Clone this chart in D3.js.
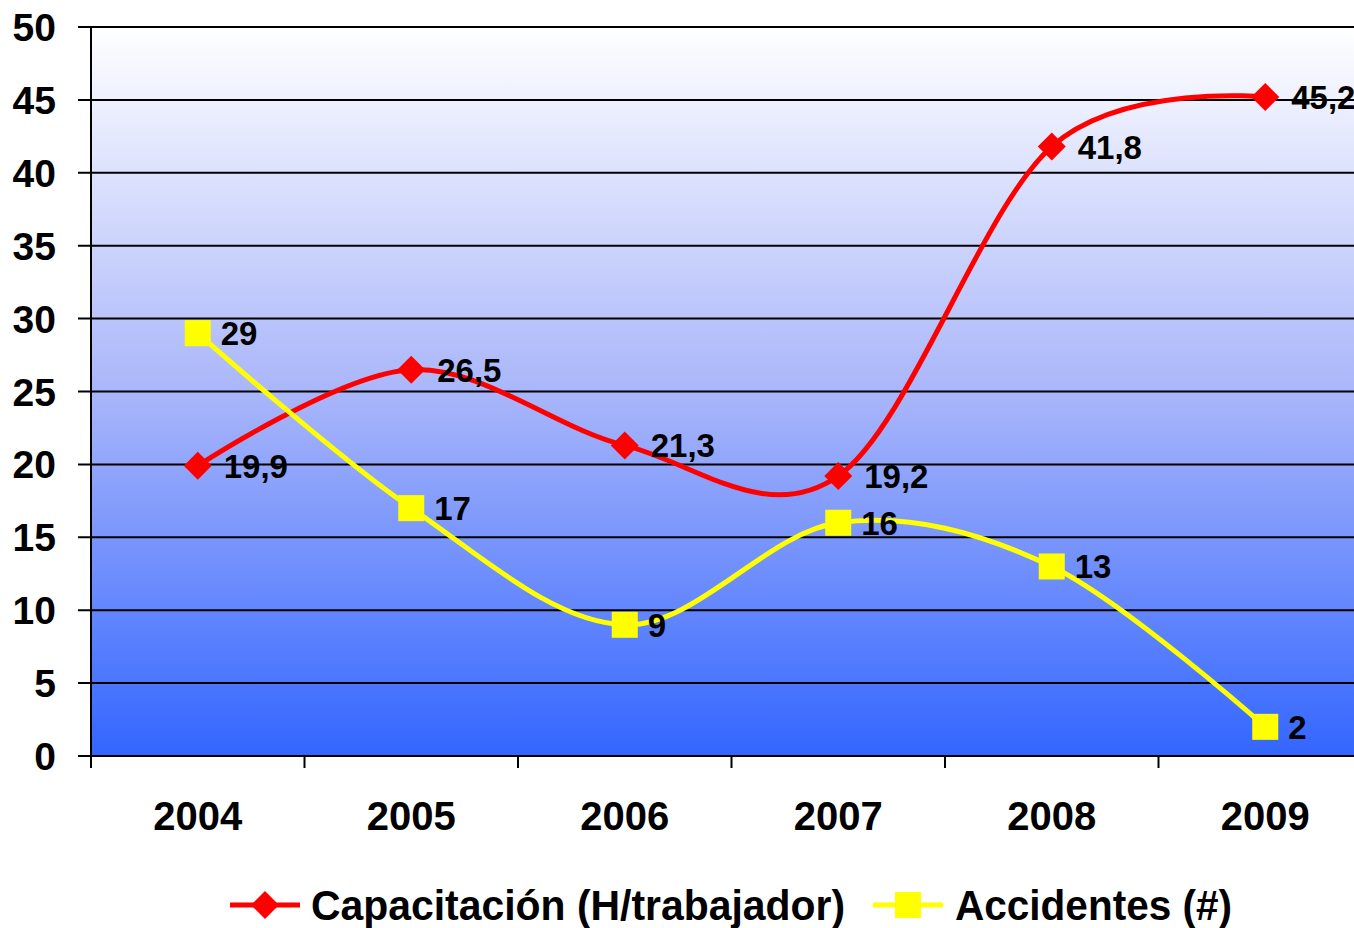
<!DOCTYPE html>
<html><head><meta charset="utf-8">
<script src="https://cdn.jsdelivr.net/npm/d3@7"></script>
<style>html,body{margin:0;padding:0;background:#fff;overflow:hidden}</style>
</head><body>
<svg id="chart" width="1354" height="928"></svg>
<script>
const years = ["2004","2005","2006","2007","2008","2009"];
const capacitacion = [19.9, 26.5, 21.3, 19.2, 41.8, 45.2];
const accidentes = [29, 17, 9, 16, 13, 2];
const capLabels = ["19,9","26,5","21,3","19,2","41,8","45,2"];
const accLabels = ["29","17","9","16","13","2"];
const yTicks = [0,5,10,15,20,25,30,35,40,45,50];
const seriesNames = ["Capacitación (H/trabajador)", "Accidentes (#)"];

(function(){
const svg = d3.select("#chart");
const font = "'Liberation Sans', Arial, sans-serif";
const pL = 91, pR = 1372, pT = 27, pB = 756;

const x = d3.scaleBand().domain(years).range([pL, pR]);
const y = d3.scaleLinear().domain([0, 50]).range([pB, pT]);

const defs = svg.append("defs");
const grad = defs.append("linearGradient").attr("id","bg").attr("x1",0).attr("y1",0).attr("x2",0).attr("y2",1);
grad.append("stop").attr("offset","0%").attr("stop-color","#ffffff");
grad.append("stop").attr("offset","50%").attr("stop-color","#a9b6fa");
grad.append("stop").attr("offset","100%").attr("stop-color","#3366ff");

svg.append("rect").attr("x", pL).attr("y", pT).attr("width", pR-pL).attr("height", pB-pT).attr("fill","url(#bg)");

// gridlines
svg.append("g").selectAll("line").data(yTicks).join("line")
  .attr("x1", pL-13).attr("x2", pR)
  .attr("y1", d=>y(d)).attr("y2", d=>y(d))
  .attr("stroke","#000").attr("stroke-width",2);

// y axis line
svg.append("line").attr("x1",pL).attr("x2",pL).attr("y1",pT).attr("y2",pB+12)
  .attr("stroke","#000").attr("stroke-width",2);

// x tick marks at band boundaries
const bounds = years.map(d=>x(d)).concat([pR]);
svg.append("g").selectAll("line").data(bounds).join("line")
  .attr("x1", d=>d).attr("x2", d=>d).attr("y1", pB).attr("y2", pB+12)
  .attr("stroke","#000").attr("stroke-width",2);

// y tick labels
svg.append("g").selectAll("text").data(yTicks).join("text")
  .attr("x", 56).attr("y", d=>y(d)+14)
  .attr("text-anchor","end").attr("font-family",font).attr("font-weight","bold")
  .attr("font-size",39).text(d=>d);

// x labels
const cx = d => x(d) + x.bandwidth()/2;
svg.append("g").selectAll("text").data(years).join("text")
  .attr("x", d=>cx(d)).attr("y", 830)
  .attr("text-anchor","middle").attr("font-family",font).attr("font-weight","bold")
  .attr("font-size",40).text(d=>d);

const line = d3.line().x(d=>cx(d.year)).y(d=>y(d.v)).curve(d3.curveCardinal.tension(0));

const capData = years.map((yr,i)=>({year:yr, v:capacitacion[i], label:capLabels[i]}));
const accData = years.map((yr,i)=>({year:yr, v:accidentes[i], label:accLabels[i]}));

svg.append("path").datum(capData).attr("d", line).attr("fill","none").attr("stroke","#ff0000").attr("stroke-width",5);
svg.append("path").datum(accData).attr("d", line).attr("fill","none").attr("stroke","#ffff00").attr("stroke-width",5);

const diamond = (s) => `M0,${-s}L${s},0L0,${s}L${-s},0Z`;
svg.append("g").selectAll("path").data(capData).join("path")
  .attr("transform", d=>`translate(${cx(d.year)},${y(d.v)})`)
  .attr("d", diamond(14)).attr("fill","#ff0000");
svg.append("g").selectAll("rect").data(accData).join("rect")
  .attr("x", d=>cx(d.year)-13).attr("y", d=>y(d.v)-13).attr("width",26).attr("height",26)
  .attr("fill","#ffff00");

// data labels
svg.append("g").selectAll("text").data(capData).join("text")
  .attr("x", d=>cx(d.year)+26).attr("y", d=>y(d.v)+12)
  .attr("font-family",font).attr("font-weight","bold").attr("font-size",33).text(d=>d.label);
svg.append("g").selectAll("text").data(accData).join("text")
  .attr("x", d=>cx(d.year)+23).attr("y", d=>y(d.v)+12)
  .attr("font-family",font).attr("font-weight","bold").attr("font-size",33).text(d=>d.label);

// legend
const lg = svg.append("g");
lg.append("line").attr("x1",230).attr("x2",300).attr("y1",905).attr("y2",905).attr("stroke","#ff0000").attr("stroke-width",5);
lg.append("path").attr("transform","translate(265,905)").attr("d",diamond(14)).attr("fill","#ff0000");
lg.append("text").attr("x",311).attr("y",920).attr("font-family",font).attr("font-weight","bold")
  .attr("font-size",43).attr("textLength",534).attr("lengthAdjust","spacingAndGlyphs").text(seriesNames[0]);
lg.append("line").attr("x1",873).attr("x2",943).attr("y1",905).attr("y2",905).attr("stroke","#ffff00").attr("stroke-width",5);
lg.append("rect").attr("x",895).attr("y",892).attr("width",26).attr("height",26).attr("fill","#ffff00");
lg.append("text").attr("x",955).attr("y",920).attr("font-family",font).attr("font-weight","bold")
  .attr("font-size",43).attr("textLength",277).attr("lengthAdjust","spacingAndGlyphs").text(seriesNames[1]);
})();
</script>
</body></html>
